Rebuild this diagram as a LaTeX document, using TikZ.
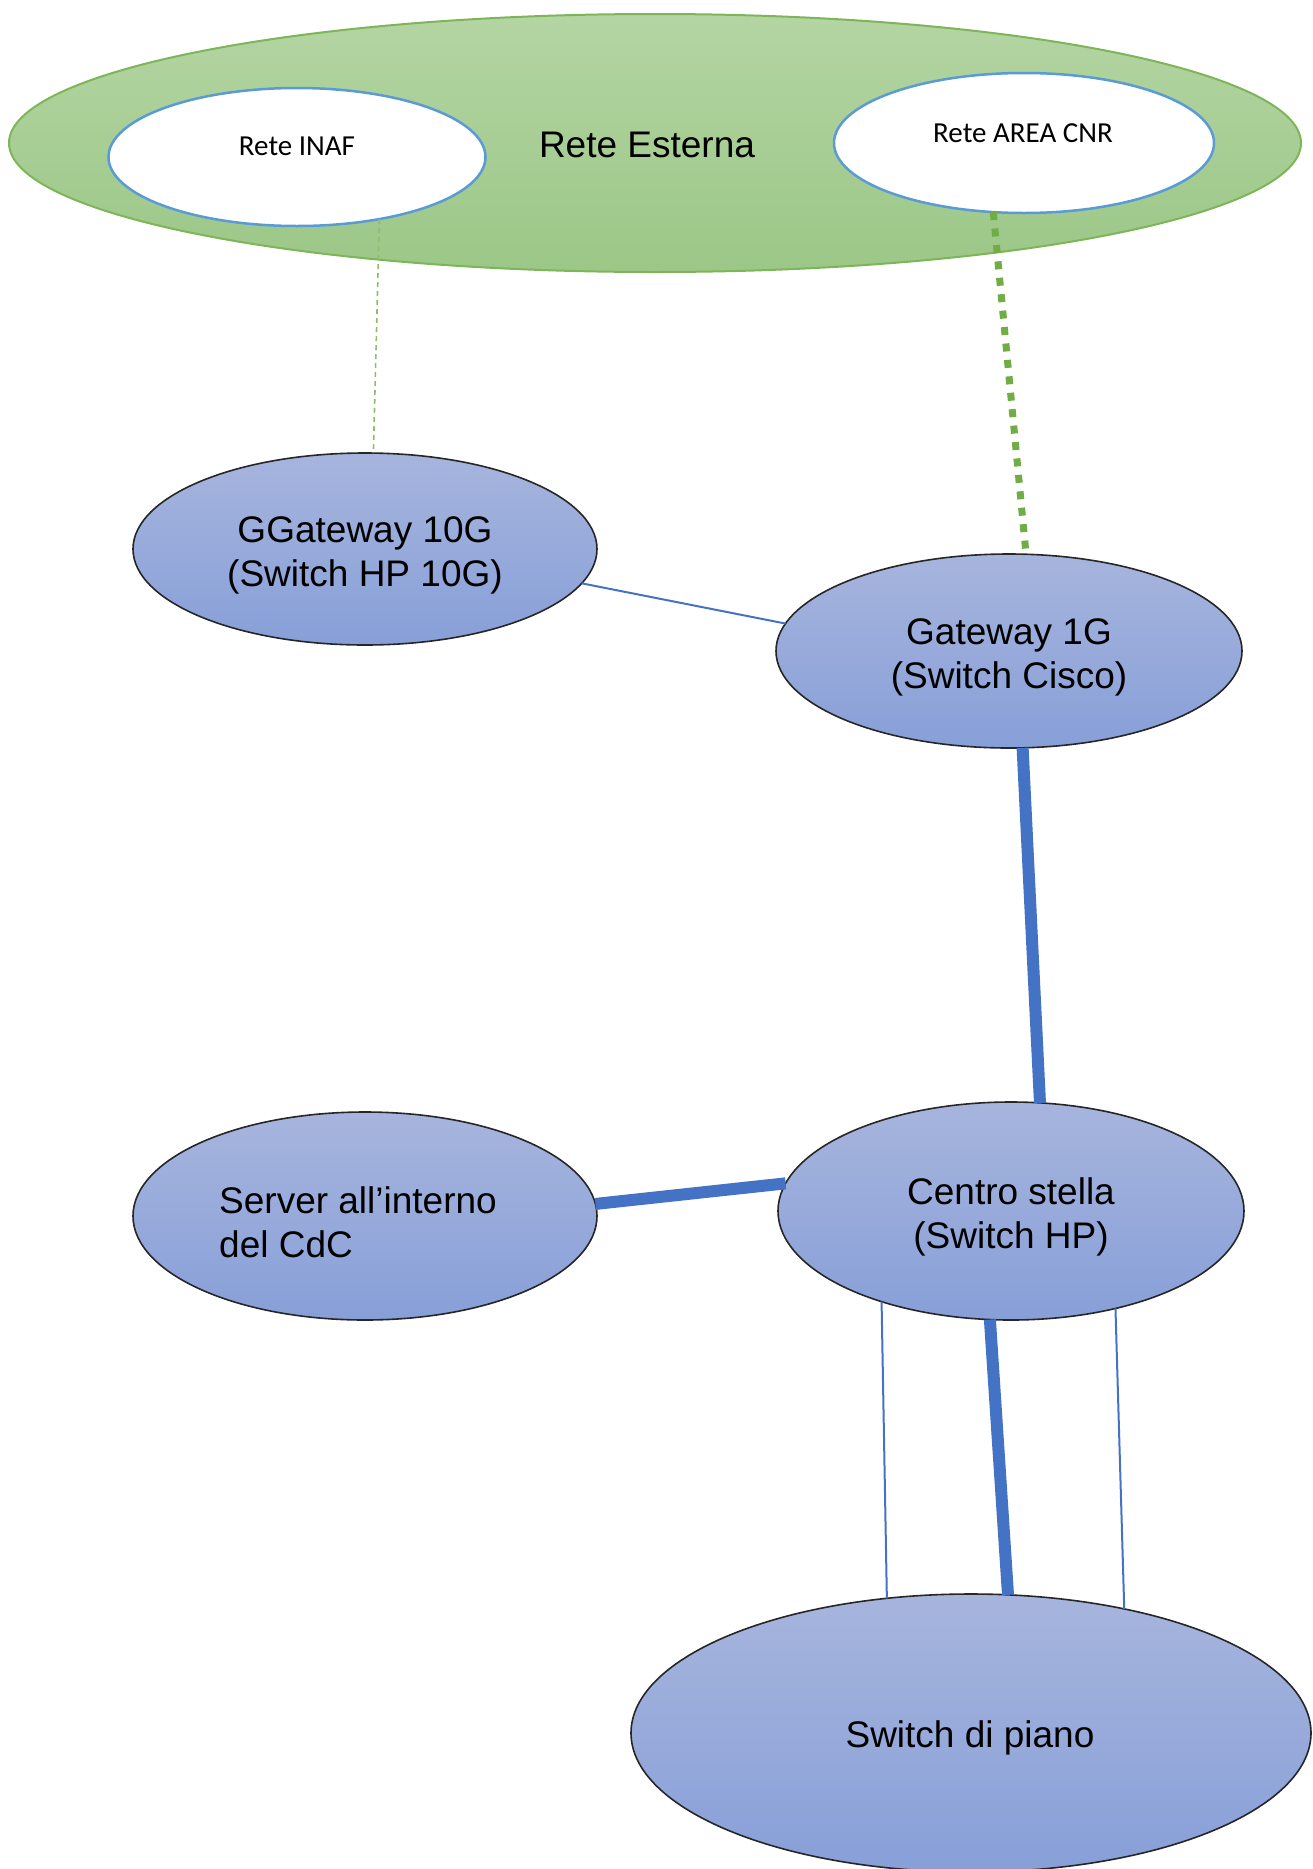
\documentclass[tikz,border=0pt]{standalone}
\usepackage{fontspec}
\setmainfont{Liberation Sans}
\newfontfamily\calib{Carlito}
\usetikzlibrary{shapes.geometric}
\definecolor{gtop}{HTML}{B4D5A3}
\definecolor{gbot}{HTML}{9BC787}
\definecolor{gline}{HTML}{70AD47}
\definecolor{btop}{HTML}{A7B5DD}
\definecolor{bbot}{HTML}{879FD8}
\definecolor{bline}{HTML}{4472C4}
\definecolor{wline}{HTML}{5B9BD5}
\tikzset{
  dev/.style={ellipse, draw=black!85, line width=1.6pt, top color=btop, bottom color=bbot,
    inner sep=0pt, outer sep=0pt},
  devtext/.style={font=\fontsize{37}{44}\selectfont, align=center, inner sep=0pt},
  net/.style={ellipse, draw=wline, line width=2.5pt, fill=white, inner sep=0pt, outer sep=0pt},
  nettext/.style={font=\calib\fontsize{29}{34}\selectfont},
  thin/.style={draw=bline, line width=2pt},
  thick/.style={draw=bline, line width=12pt},
  greendash/.style={draw=gline!80, line width=1.6pt, dash pattern=on 5pt off 4pt},
  greendot/.style={draw=gline, line width=7pt, dash pattern=on 8pt off 8.5pt},
}
\begin{document}
\begin{tikzpicture}[x=1pt,y=1pt]
\useasboundingbox (0,0) rectangle (1313,-1869);
% external network
\node[ellipse, draw=gline!90, line width=2pt, top color=gtop, bottom color=gbot,
  minimum width=1292pt, minimum height=258pt, inner sep=0pt, outer sep=0pt] (ext) at (655,-143) {};
\node[devtext] (exttext) at (647,-145) {Rete Esterna};
\node[net, minimum width=377pt, minimum height=138pt] (inaf) at (297,-157) {};
\node[nettext] (inaftext) at (297,-146) {Rete INAF};
\node[net, minimum width=380pt, minimum height=140pt] (cnr) at (1024,-143) {};
\node[nettext] (cnrtext) at (1023,-133) {Rete AREA CNR};
% devices
\node[dev, minimum width=464pt, minimum height=192pt] (gg) at (365,-549) {};
\node[devtext] (ggtext) at (365,-555) {GGateway 10G\\(Switch HP 10G)};
\node[dev, minimum width=466pt, minimum height=194pt] (gw) at (1009,-651) {};
\node[devtext] (gwtext) at (1009,-657) {Gateway 1G\\(Switch Cisco)};
\node[dev, minimum width=464pt, minimum height=208pt] (srv) at (365,-1216) {};
\node[devtext, align=left, anchor=west] (srvtext) at (219,-1222) {Server all’interno\\del CdC};
\node[dev, minimum width=466pt, minimum height=218pt] (cs) at (1011,-1211) {};
\node[devtext] (cstext) at (1011,-1217) {Centro stella\\(Switch HP)};
\node[dev, minimum width=680pt, minimum height=278pt] (sdp) at (971,-1733) {};
\node[devtext] (sdptext) at (970,-1738) {Switch di piano};
% connectors
\draw[greendash] (inaf.323.6) -- (gg.85.8);
\draw[greendot] (cnr.246.5) -- (gw.80);
\draw[thin] (gg.351.2) -- (gw.173.8);
\draw[thick] (gw.278.2) -- (cs.75);
\draw[thick] (srv.3.3) -- (cs.173.9);
\draw[thin] (cs.215.4) -- (sdp.122);
\draw[thick] (cs.259.1) -- (sdp.75.8);
\draw[thin] (cs.317.5) -- (sdp.39.5);
\end{tikzpicture}
\end{document}
